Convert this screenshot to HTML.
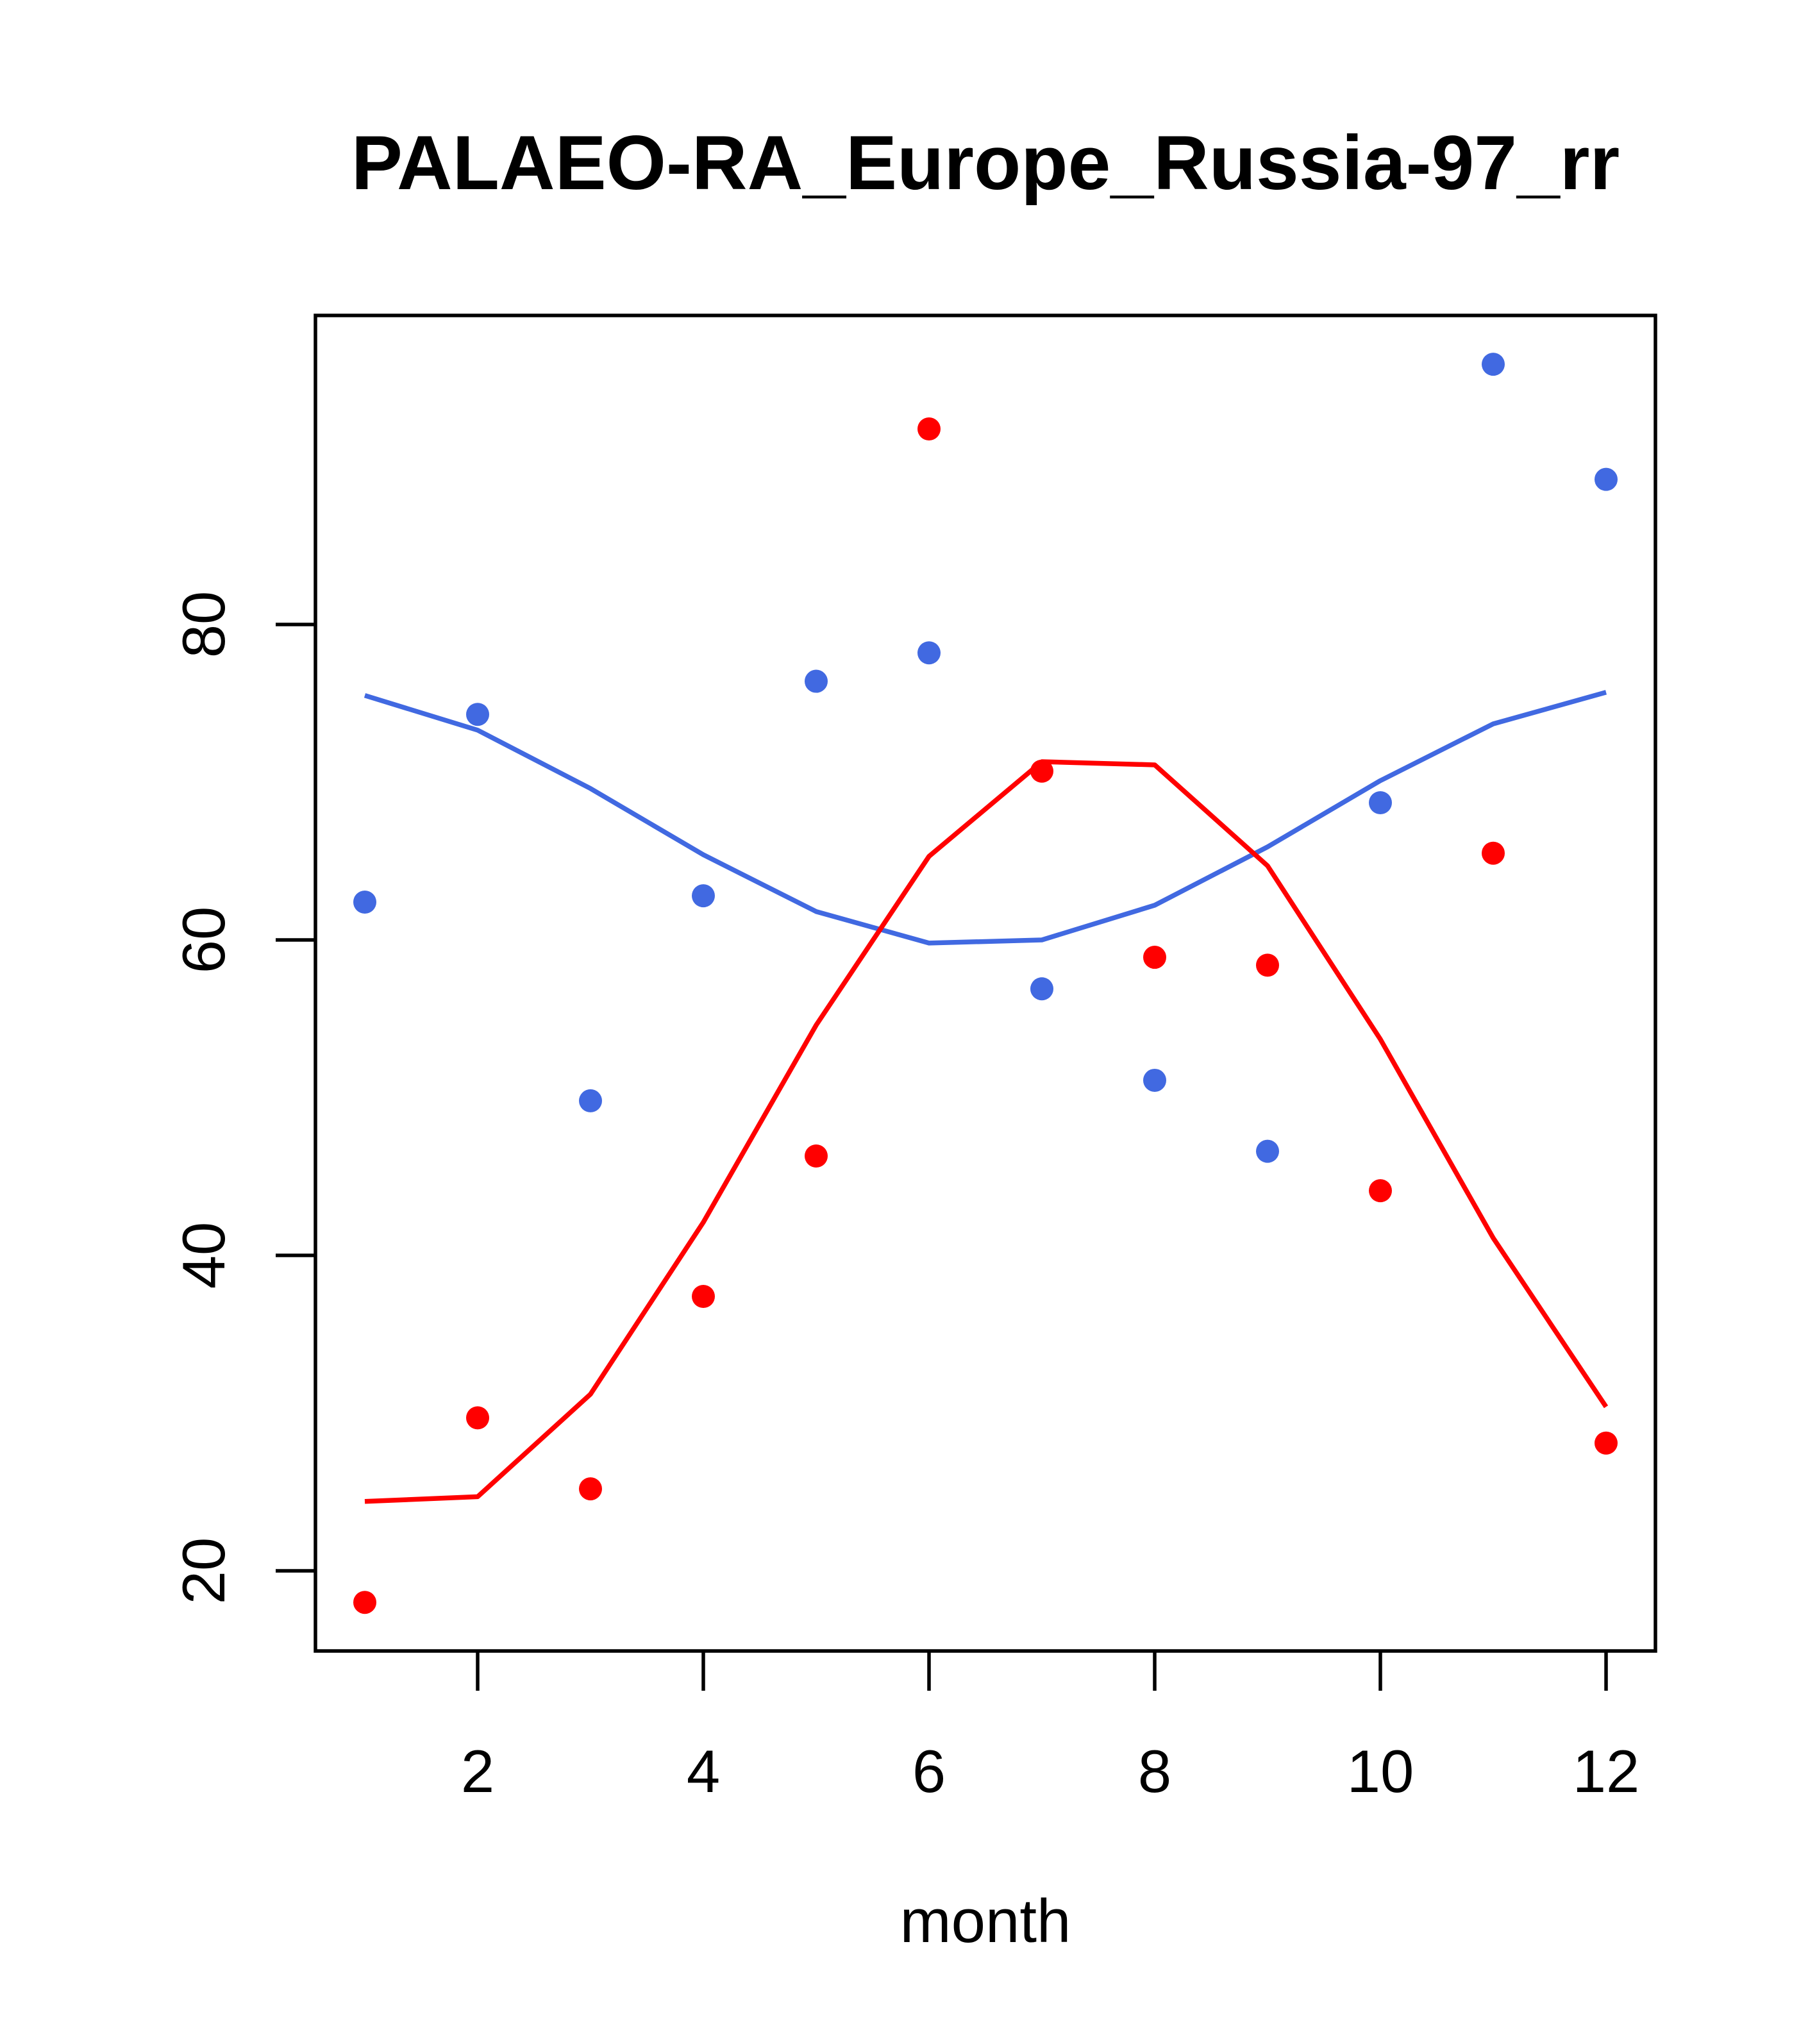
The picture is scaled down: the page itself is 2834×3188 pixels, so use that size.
<!DOCTYPE html>
<html><head><meta charset="utf-8"><style>body{margin:0;background:#fff}svg{display:block}text{font-family:"Liberation Sans",Arial,sans-serif}</style></head>
<body>
<svg id="chart" xmlns="http://www.w3.org/2000/svg" width="2834" height="3188" viewBox="0 0 2834 3188">
<rect width="2834" height="3188" fill="#fff"/>
<text x="1537" y="295" font-size="120" font-weight="bold" text-anchor="middle">PALAEO-RA_Europe_Russia-97_rr</text>
<rect x="492" y="492" width="2090" height="2083" fill="none" stroke="#000" stroke-width="5.5"/>
<text x="1537" y="3029" font-size="96" text-anchor="middle">month</text>
<g id="xaxis"></g>
<g id="yaxis"></g>
<g id="series"></g>
</svg>
<script>
const months = [1,2,3,4,5,6,7,8,9,10,11,12];
const bluePoints = [62.4,74.3,49.8,62.8,76.4,78.2,56.9,51.1,46.6,68.7,96.5,89.2];
const redPoints = [18.0,29.7,25.2,37.4,46.3,92.4,70.7,58.9,58.4,44.1,65.5,28.1];
const blueLine = [75.5,73.3,69.6,65.4,61.8,59.8,60.0,62.2,65.9,70.1,73.7,75.7];
const redLine = [24.4,24.7,31.2,42.1,54.6,65.3,71.3,71.1,64.7,53.7,41.1,30.4];
const xTicks = [2,4,6,8,10,12];
const yTicks = [20,40,60,80];

const NS = "http://www.w3.org/2000/svg";
function sx(m){ return 569 + (m-1)*176; }
function sy(v){ return 974 - (v-80)*24.6; }
function mk(tag, attrs, parent){ const e=document.createElementNS(NS,tag); for(const k in attrs) e.setAttribute(k,attrs[k]); parent.appendChild(e); return e; }

const xa=document.getElementById('xaxis'), ya=document.getElementById('yaxis'), sg=document.getElementById('series');
xTicks.forEach(t=>{
  const l=mk('line',{x1:sx(t),x2:sx(t),y1:2575,y2:2637,stroke:'#000','stroke-width':5.5},xa);
  
  
  const tx=mk('text',{x:sx(t),y:2795,'font-size':94,'text-anchor':'middle'},xa);
  tx.textContent=t;
  
  
});
yTicks.forEach(t=>{
  const l=mk('line',{x1:430,x2:492,y1:sy(t),y2:sy(t),stroke:'#000','stroke-width':5.5},ya);
  
  
  const tx=mk('text',{x:0,y:0,'font-size':94,'text-anchor':'middle',transform:`translate(350,${sy(t)}) rotate(-90)`},ya);
  tx.textContent=t;
  
  
});
function line(vals,color,name){
  const p=mk('polyline',{points:vals.map((v,i)=>sx(months[i])+','+sy(v)).join(' '),fill:'none',stroke:color,'stroke-width':7.5,'stroke-linejoin':'round'},sg);
  
  
}
function pts(vals,color,name){
  vals.forEach((v,i)=>{
    const c=mk('circle',{cx:sx(months[i]),cy:sy(v),r:18,fill:color},sg);
    
    
  });
}
line(blueLine,'#4169E1','blue-line');
line(redLine,'#FF0000','red-line');
pts(bluePoints,'#4169E1','blue-point');
pts(redPoints,'#FF0000','red-point');
</script>
</body></html>
